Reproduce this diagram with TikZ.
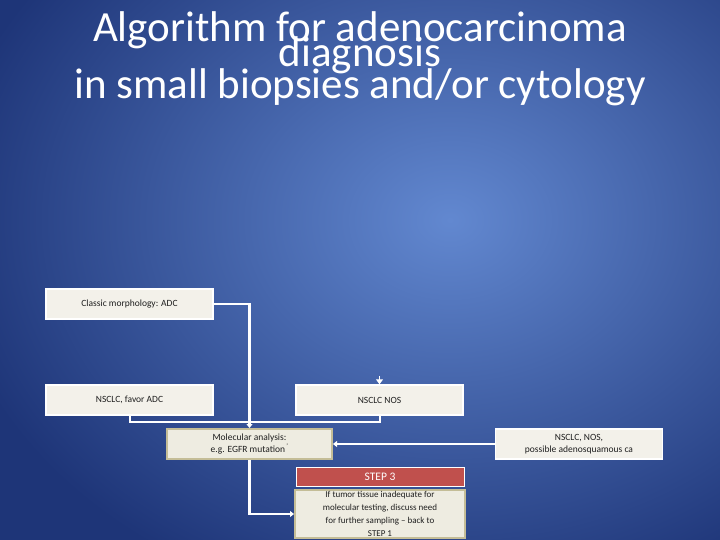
\documentclass[tikz,border=0pt]{standalone}
\usepackage{fontspec}
\setmainfont{Carlito}
\usetikzlibrary{arrows.meta}
\definecolor{bgin}{HTML}{6288D0}
\definecolor{bgout}{HTML}{1E3578}
\definecolor{boxw}{HTML}{F3F1EA}
\definecolor{boxb}{HTML}{EEECE1}
\definecolor{tan}{HTML}{C4BD97}
\definecolor{stepred}{HTML}{C0504D}
\definecolor{txt}{HTML}{1F1F1F}
\begin{document}
\begin{tikzpicture}[x=1pt,y=-1pt,
  wbox/.style={draw=white,line width=1.5pt,fill=boxw,minimum width=167pt,minimum height=30pt,inner sep=1pt,align=center,font=\fontsize{9.5}{12}\selectfont,text=txt},
  bbox/.style={draw=tan,line width=2pt,fill=boxb,minimum width=165pt,inner sep=1pt,align=center,font=\fontsize{9.5}{12}\selectfont,text=txt},
  conn/.style={draw=white,line width=2.5pt},
  arr/.style={conn,-{Triangle[width=6pt,length=4pt]}},
  ttl/.style={text=white,font=\fontsize{43}{46}\selectfont,inner sep=0pt}]
\path[use as bounding box] (0,0) rectangle (720,540);
\begin{scope}
\clip (0,0) rectangle (720,540);
\shade[inner color=bgin,outer color=bgout] (-60,-180) rectangle (960,620);
\end{scope}
\node[ttl] (t1) at (360,30) {Algorithm for adenocarcinoma};
\node[ttl] (t2) at (360,55) {diagnosis};
\node[ttl] (t3) at (360,87) {in small biopsies and/or cytology};
\node[wbox] (cls) at (129.5,304) {Classic morphology: ADC};
\node[wbox] (fav) at (129.5,400) {NSCLC, favor ADC};
\node[wbox] (nos) at (379.5,400) {NSCLC NOS};
\node[bbox,minimum height=30pt] (mol) at (249.5,444) {Molecular analysis:\\e.g. EGFR mutation\textsuperscript{\,\textquoteright}};
\node[wbox] (ads) at (579,444) {NSCLC, NOS,\\possible adenosquamous ca};
\node[draw=white,line width=1pt,fill=stepred,minimum width=168pt,minimum height=19pt,inner sep=0pt,text=white,font=\fontsize{11.5}{12}\selectfont] (st) at (380,477) {STEP 3};
\node[bbox,minimum width=170pt,minimum height=47pt,font=\fontsize{9}{13}\selectfont] (inad) at (380,514) {If tumor tissue inadequate for\\molecular testing, discuss need\\for further sampling -- back to\\STEP 1};
\coordinate (nt) at (379.5,376);
\draw[draw=white,line width=1.5pt,-{Triangle[width=7pt,length=5pt]}] (nt) -- (nos.north);
\draw[arr] (cls.east) -| (mol.north);
\draw[draw=white,line width=2pt] (fav.south) |- (379.5,422) -- (nos.south);
\draw[arr] (ads.west) -- (mol.east);
\draw[arr] (mol.south) |- (inad.west);
\end{tikzpicture}
\end{document}
